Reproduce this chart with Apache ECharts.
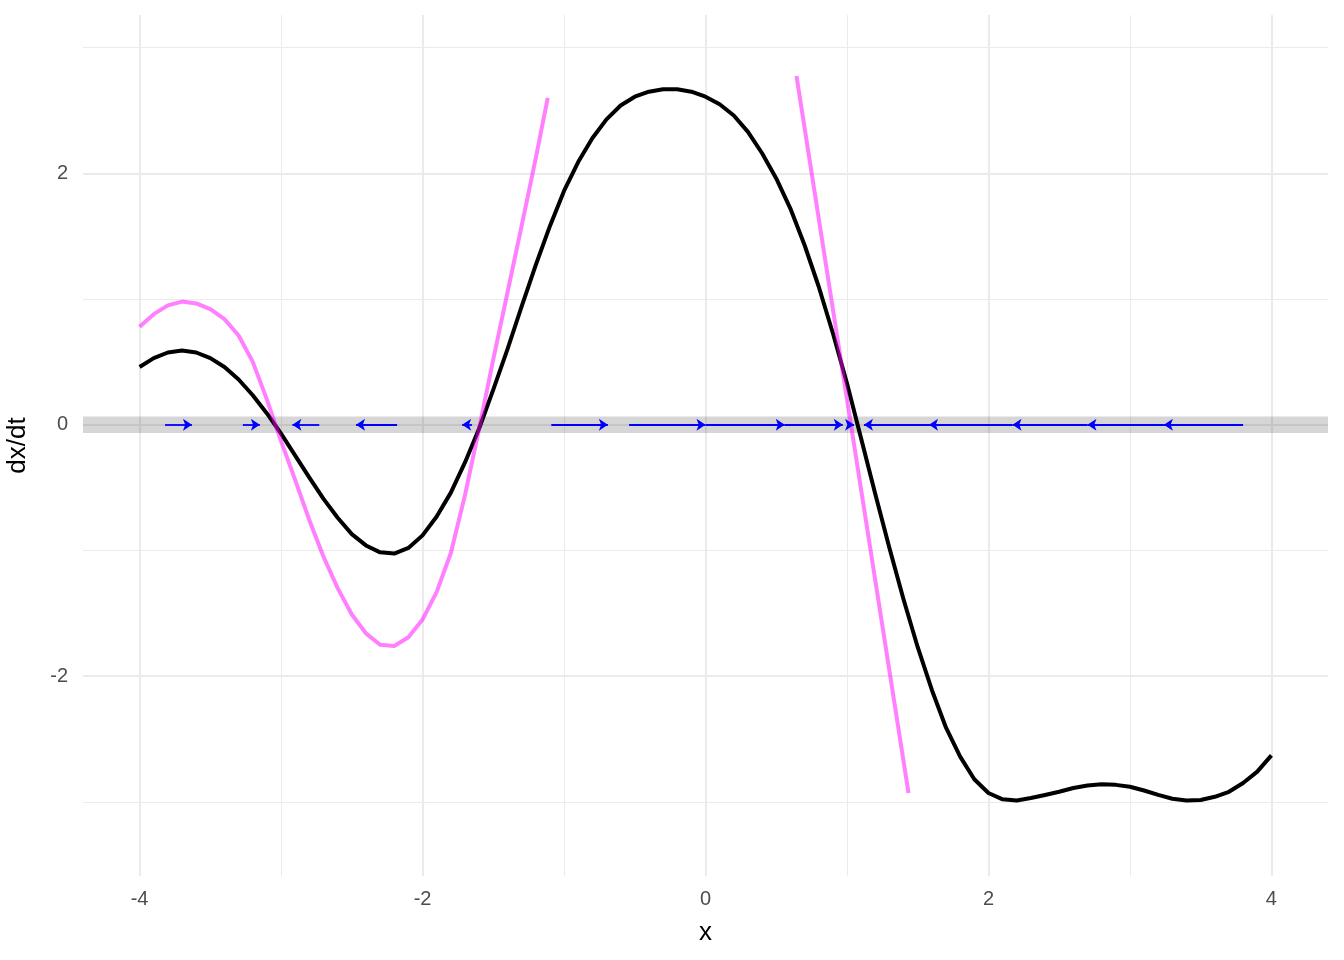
<!DOCTYPE html>
<html>
<head>
<meta charset="utf-8">
<script src="https://cdn.jsdelivr.net/npm/echarts@6/dist/echarts.min.js"></script>
<style>
  html, body { margin: 0; padding: 0; background: #ffffff; }
  #chart { width: 1344px; height: 960px; }
</style>
</head>
<body>
<div id="chart"></div>
<script>
// black curve: dx/dt
var blackX = [-4.0, -3.9, -3.8, -3.7, -3.6, -3.5, -3.4, -3.3, -3.2, -3.1, -3.0, -2.9, -2.8, -2.7, -2.6, -2.5, -2.4, -2.3, -2.2, -2.1, -2.0, -1.9, -1.8, -1.7, -1.6, -1.5, -1.4, -1.3, -1.2, -1.1, -1.0, -0.9, -0.8, -0.7, -0.6, -0.5, -0.4, -0.3, -0.2, -0.1, 0.0, 0.1, 0.2, 0.3, 0.4, 0.5, 0.6, 0.7, 0.8, 0.9, 1.0, 1.1, 1.2, 1.3, 1.4, 1.5, 1.6, 1.7, 1.8, 1.9, 2.0, 2.1, 2.2, 2.3, 2.4, 2.5, 2.6, 2.7, 2.8, 2.9, 3.0, 3.1, 3.2, 3.3, 3.4, 3.5, 3.6, 3.7, 3.8, 3.9, 4.0];
var blackY = [0.46, 0.53, 0.575, 0.59, 0.575, 0.53, 0.46, 0.36, 0.235, 0.09, -0.07, -0.245, -0.42, -0.59, -0.74, -0.87, -0.96, -1.015, -1.025, -0.98, -0.88, -0.73, -0.54, -0.30, -0.03, 0.28, 0.60, 0.94, 1.27, 1.58, 1.86, 2.09, 2.28, 2.43, 2.54, 2.61, 2.65, 2.67, 2.67, 2.65, 2.61, 2.55, 2.46, 2.33, 2.16, 1.96, 1.72, 1.43, 1.10, 0.73, 0.33, -0.11, -0.55, -0.98, -1.39, -1.77, -2.11, -2.41, -2.64, -2.82, -2.93, -2.98, -2.99, -2.97, -2.945, -2.92, -2.89, -2.87, -2.86, -2.865, -2.88, -2.91, -2.945, -2.975, -2.99, -2.985, -2.96, -2.92, -2.85, -2.76, -2.63];

// pink curve (left)
var pinkX = [-4.0, -3.9, -3.8, -3.7, -3.6, -3.5, -3.4, -3.3, -3.2, -3.1, -3.0, -2.9, -2.8, -2.7, -2.6, -2.5, -2.4, -2.3, -2.2, -2.1, -2.0, -1.9, -1.8, -1.7, -1.6, -1.5, -1.4, -1.3, -1.2, -1.115];
var pinkY = [0.78, 0.88, 0.95, 0.98, 0.965, 0.92, 0.84, 0.71, 0.50, 0.20, -0.13, -0.44, -0.76, -1.05, -1.30, -1.51, -1.66, -1.75, -1.76, -1.69, -1.55, -1.33, -1.02, -0.56, -0.03, 0.52, 1.05, 1.58, 2.12, 2.60];

// pink tangent line (right)
var tangentX = [0.643, 1.435];
var tangentY = [2.775, -2.93];

// phase-line arrows along dx/dt = 0
var arrowFrom = [-3.82, -3.27, -2.73, -2.18, -1.65, -1.09, -0.54, 0.0, 0.56, 1.035, 3.80, 3.24, 2.70, 2.17, 1.58];
var arrowTo   = [-3.63, -3.15, -2.92, -2.47, -1.72, -0.69, 0.0, 0.56, 0.97, 1.05, 3.24, 2.70, 2.17, 1.58, 1.12];

var xMajor = [-4, -2, 0, 2, 4];
var xMinor = [-3, -1, 1, 3];
var yMajor = [-2, 0, 2];
var yMinor = [-3, -1, 1, 3];

function pairs(xs, ys) {
  return xs.map(function (x, i) { return [x, ys[i]]; });
}

var gridLines = [];
xMajor.forEach(function (v) { gridLines.push({ xAxis: v, lineStyle: { width: 2.1 } }); });
xMinor.forEach(function (v) { gridLines.push({ xAxis: v, lineStyle: { width: 1.05 } }); });
yMajor.forEach(function (v) { gridLines.push({ yAxis: v, lineStyle: { width: 2.1 } }); });
yMinor.forEach(function (v) { gridLines.push({ yAxis: v, lineStyle: { width: 1.05 } }); });

var arrows = arrowFrom.map(function (a, i) {
  return { coords: [[a, 0], [arrowTo[i], 0]] };
});

var chart = echarts.init(document.getElementById('chart'));
chart.setOption({
  animation: false,
  backgroundColor: '#ffffff',
  textStyle: { fontFamily: 'Liberation Sans' },
  grid: { left: 83, right: 16, top: 15, bottom: 84, containLabel: false, outerBoundsMode: 'none' },
  xAxis: {
    type: 'value',
    min: -4.4,
    max: 4.4,
    name: 'x',
    nameLocation: 'middle',
    nameGap: 44,
    nameTextStyle: { fontSize: 26, color: '#000000' },
    axisLine: { show: false },
    axisTick: { show: false },
    splitLine: { show: false },
    axisLabel: { customValues: xMajor, fontSize: 20, color: '#4d4d4d', margin: 13 }
  },
  yAxis: {
    type: 'value',
    min: -3.59,
    max: 3.26,
    name: 'dx/dt',
    nameLocation: 'middle',
    nameGap: 52,
    nameTextStyle: { fontSize: 26, color: '#000000' },
    axisLine: { show: false },
    axisTick: { show: false },
    splitLine: { show: false },
    axisLabel: { customValues: yMajor, fontSize: 20, color: '#4d4d4d', margin: 15 }
  },
  series: [
    {
      type: 'line',
      data: [],
      silent: true,
      markLine: {
        z: 1,
        silent: true,
        symbol: ['none', 'none'],
        label: { show: false },
        lineStyle: { color: '#ebebeb', type: 'solid' },
        data: gridLines
      },
      markArea: {
        z: 2,
        silent: true,
        itemStyle: { color: 'rgba(0,0,0,0.16)' },
        data: [[{ xAxis: -4.4, yAxis: -0.065 }, { xAxis: 4.4, yAxis: 0.065 }]]
      }
    },
    {
      type: 'line',
      z: 3,
      data: pairs(blackX, blackY),
      showSymbol: false,
      lineStyle: { color: '#000000', width: 4, join: 'round' }
    },
    {
      type: 'line',
      z: 4,
      data: pairs(pinkX, pinkY),
      showSymbol: false,
      lineStyle: { color: 'rgba(255,0,255,0.5)', width: 4, join: 'round' }
    },
    {
      type: 'line',
      z: 4,
      data: pairs(tangentX, tangentY),
      showSymbol: false,
      lineStyle: { color: 'rgba(255,0,255,0.5)', width: 4 }
    },
    {
      type: 'lines',
      coordinateSystem: 'cartesian2d',
      z: 5,
      symbol: ['none', 'arrow'],
      symbolSize: 9,
      lineStyle: { color: '#0000ff', width: 1.8, opacity: 1 },
      data: arrows
    }
  ]
});
</script>
</body>
</html>
